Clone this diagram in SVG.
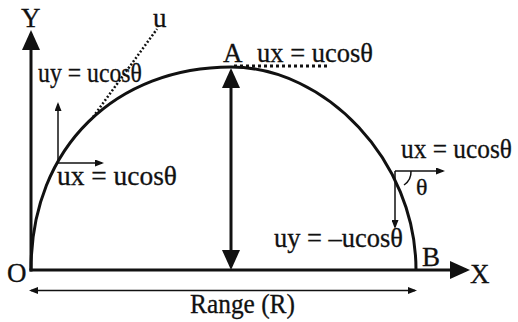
<svg xmlns="http://www.w3.org/2000/svg" width="518" height="322" viewBox="0 0 518 322">
<style>
  text { font-family: "Liberation Serif", "Times New Roman", serif; font-size: 27px; fill: #111; stroke: #111; stroke-width: 0.3; }
  .thick { stroke: #111; stroke-width: 3; fill: none; }
  .thin { stroke: #111; stroke-width: 1.5; fill: none; }
  .dots { stroke: #111; stroke-width: 2.5; stroke-dasharray: 2 2; fill: none; }
  .sq { stroke: #111; stroke-width: 3; stroke-dasharray: 3 3; fill: none; }
</style>
<defs>
  <marker id="big" markerUnits="userSpaceOnUse" markerWidth="20" markerHeight="18" refX="16" refY="9" orient="auto-start-reverse">
    <path d="M0,0 L20,9 L0,18 Z" fill="#111"/>
  </marker>
  <marker id="small" markerUnits="userSpaceOnUse" markerWidth="9" markerHeight="7" refX="7" refY="3.5" orient="auto-start-reverse">
    <path d="M0,0 L9,3.5 L0,7 Z" fill="#111"/>
  </marker>
</defs>
<rect width="518" height="322" fill="#fff"/>
<g id="axes">
  <line class="thick" x1="31" y1="271.5" x2="31" y2="34" marker-end="url(#big)"/>
  <line class="thick" x1="29.5" y1="270" x2="466" y2="270" marker-end="url(#big)"/>
  <text x="21" y="27">Y</text>
  <text x="7" y="282">O</text>
  <text x="470" y="283">X</text>
</g>
<g id="trajectory">
  <path class="thick" d="M31,270 C31,145 118,67 231,67 C325,67 416,160 416,270"/>
  <text x="422" y="266">B</text>
</g>
<g id="connectors">
  <line class="dots" x1="93" y1="117" x2="157" y2="29"/>
  <line class="sq" x1="234" y1="66" x2="328" y2="66"/>
  <line class="thick" x1="231" y1="72" x2="231" y2="266" marker-start="url(#big)" marker-end="url(#big)"/>
  <line class="thin" x1="58" y1="163" x2="58" y2="104" marker-end="url(#small)"/>
  <line class="thin" x1="58" y1="163" x2="102" y2="163" marker-end="url(#small)"/>
  <line class="thin" x1="395" y1="171" x2="443" y2="171" marker-end="url(#small)"/>
  <line class="thin" x1="395" y1="171" x2="395" y2="227" marker-end="url(#small)"/>
  <path class="thin" d="M411,171 A16,16 0 0 1 404,185"/>
  <line class="thin" x1="31" y1="290.5" x2="415" y2="290.5" marker-start="url(#small)" marker-end="url(#small)"/>
</g>
<g id="labels">
  <text x="153" y="27">u</text>
  <text x="38" y="82" textLength="104" lengthAdjust="spacingAndGlyphs">uy = ucosθ</text>
  <text x="223" y="62">A</text>
  <text x="257" y="62" textLength="116" lengthAdjust="spacingAndGlyphs">ux = ucosθ</text>
  <text x="57" y="185" textLength="120" lengthAdjust="spacingAndGlyphs">ux = ucosθ</text>
  <text x="401" y="158" textLength="111" lengthAdjust="spacingAndGlyphs">ux = ucosθ</text>
  <text x="416" y="195" style="font-size:24px">θ</text>
  <text x="274" y="247" textLength="129" lengthAdjust="spacingAndGlyphs">uy = –ucosθ</text>
  <text x="190" y="313" textLength="105" lengthAdjust="spacingAndGlyphs">Range (R)</text>
</g>
</svg>
